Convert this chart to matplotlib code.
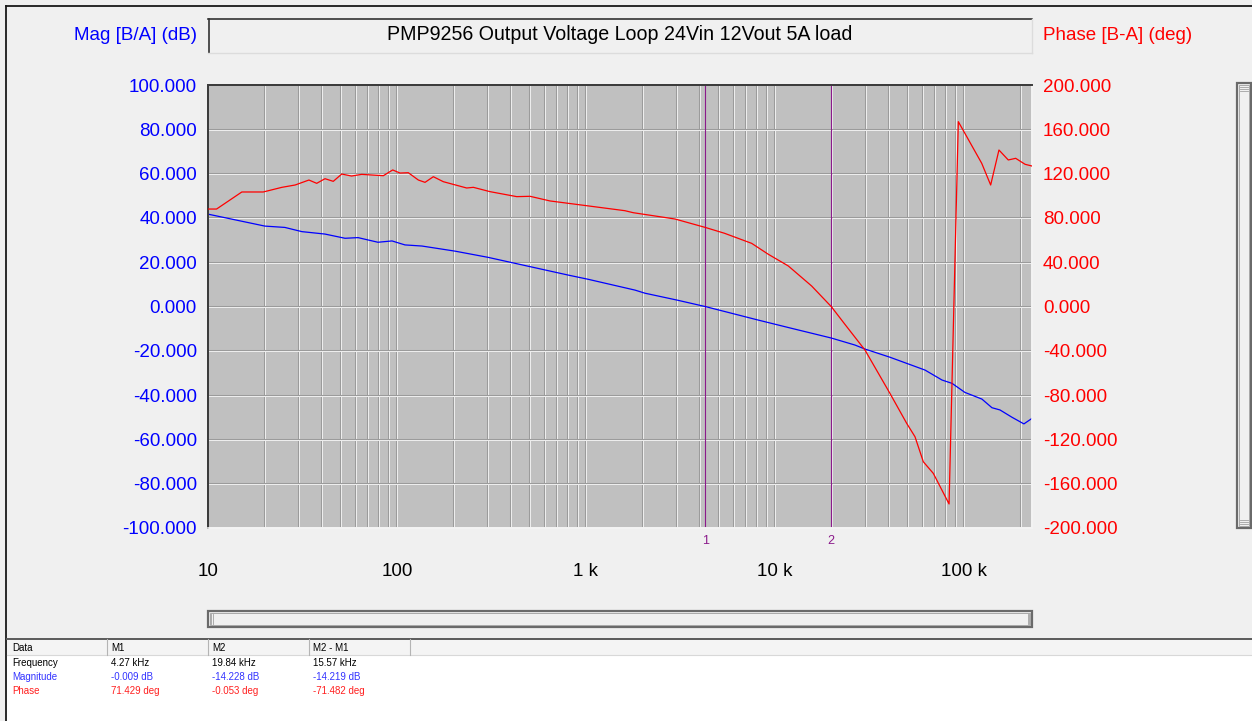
import matplotlib
matplotlib.use("Agg")
import matplotlib.pyplot as plt
import numpy as np
from matplotlib.patches import Rectangle
from matplotlib.lines import Line2D
from matplotlib.transforms import Affine2D, ScaledTranslation

# ---- measured loop data ----
freq_mag = [10, 20.0, 25.5, 31.4, 41.6, 53.1, 62.2, 79.3, 94.1, 110.2, 135.5,
            202.6, 302.9, 405.6, 505.6, 606.9, 803.5, 1025, 1817, 2052, 3029,
            4270, 8128, 12300, 19840, 26490, 29920, 40560, 62200, 76530,
            86450, 101200, 124400, 140600, 155000, 179400, 207500, 229100]
mag_db = [41.7, 36.3, 35.7, 33.8, 32.7, 30.8, 31.1, 29.0, 29.6, 27.8, 27.3,
          25.0, 22.2, 19.8, 18.0, 16.5, 14.2, 12.3, 7.4, 6.0, 2.9,
          -0.009, -6.1, -9.9, -14.228, -17.4, -19.2, -22.9, -28.7, -33.2,
          -34.7, -38.8, -41.8, -45.7, -46.7, -50.0, -53.0, -50.5]

freq_phase = [10, 11.1, 15.1, 19.6, 24.6, 28.9, 34.2, 37.6, 41.6, 46.0, 51.0,
              57.5, 65.0, 84.7, 94.9, 103.7, 114.8, 129.7, 140.7, 155.7, 175.8,
              233.7, 253.5, 310.6, 430, 505.6, 645.4, 968.6, 1607, 1778, 2958,
              4270, 5410, 7530, 9230, 11760, 15630, 19840, 23440, 29920, 40560,
              49750, 55050, 60930, 68830, 83370, 87510, 93330, 124100, 138400,
              153100, 171500, 187700, 210500, 228200]
phase_deg = [88.0, 88.0, 103.4, 103.4, 107.6, 109.7, 114.2, 111.2, 115.4, 113.0, 119.6,
             117.8, 119.3, 118.1, 123.3, 120.5, 120.8, 114.2, 112.1, 117.2, 112.7,
             107.0, 107.6, 103.7, 99.2, 99.5, 95.3, 91.4, 86.5, 84.7, 79.0,
             71.429, 66.1, 57.0, 47.1, 36.6, 18.5, -0.053, -16.1, -39.3, -78.4,
             -105.5, -117.6, -140.2, -150.7, -178.3, -30.0, 166.9, 129.3, 109.7,
             141.3, 132.3, 133.8, 128.4, 126.9]

marker_freq = [4270, 19840]
marker_names = ["1", "2"]

x_ticks = [10, 100, 1e3, 1e4, 1e5]
x_tick_labels = ["10", "100", "1 k", "10 k", "100 k"]
mag_ticks = list(range(-100, 101, 20))
phase_ticks = list(range(-200, 201, 40))
f_min, f_max = 10, 229000

title = "PMP9256 Output Voltage Loop 24Vin 12Vout 5A load"
mag_label = "Mag [B/A] (dB)"
phase_label = "Phase [B-A] (deg)"

table_header = ["Data", "M1", "M2", "M2 - M1"]
table_names = ["Frequency", "Magnitude", "Phase"]
table_m1 = ["4.27 kHz", "-0.009 dB", "71.429 deg"]
table_m2 = ["19.84 kHz", "-14.228 dB", "-0.053 deg"]
table_diff = ["15.57 kHz", "-14.219 dB", "-71.482 deg"]

# ---- styling ----
BLUE = "#0000ff"
RED = "#ff0000"
PURPLE = "#8b1a8b"
BG = "#f0f0f0"
W, H = 1252, 721
FS = 13.5

plt.rcParams["font.family"] = ["Liberation Sans", "DejaVu Sans"]

fig = plt.figure(figsize=(W / 100, H / 100), dpi=100, facecolor=BG)
# pixel coordinates measured from the top-left corner
px = Affine2D().scale(1 / W, -1 / H).translate(0, 1) + fig.transFigure


def hline(x0, x1, y, color, lw=1.0, z=5):
    fig.add_artist(Line2D([x0, x1], [y, y], transform=px, color=color, lw=lw, zorder=z))


def vline(x, y0, y1, color, lw=1.0, z=5):
    fig.add_artist(Line2D([x, x], [y0, y1], transform=px, color=color, lw=lw, zorder=z))


def ptext(x, y, s, **kw):
    fig.text(x / W, 1 - y / H, s, zorder=10, **kw)


# outer window frame
hline(6, W, 6, "#1a1a1a", 1.3)
vline(6, 6, H, "#1a1a1a", 1.3)

# title box (sunken)
fig.add_artist(Rectangle((208, 18), 824, 35, transform=px, facecolor=BG,
                         edgecolor="none", zorder=4))
hline(208, 1032, 18.5, "#333333", 1.2)
vline(208.5, 18.5, 53, "#333333", 1.2)
hline(208, 1032, 53, "#dcdcdc", 1.0)
vline(1032, 18.5, 53, "#dcdcdc", 1.0)
ptext(620, 35, title, ha="center", va="center", fontsize=FS + 0.6, color="black")
ptext(197, 35, mag_label, ha="right", va="center", fontsize=FS, color=BLUE)
ptext(1043, 35, phase_label, ha="left", va="center", fontsize=FS, color=RED)

# ---- main plot ----
ax = fig.add_axes([208 / W, 1 - 528 / H, 824 / W, 443 / H])
ax.set_facecolor("#c0c0c0")
ax.set_xscale("log")
ax.set_xlim(f_min, f_max)
ax.set_ylim(-100, 100)
ax.autoscale(False)

ax2 = ax.twinx()
ax2.set_xscale("log")
ax2.set_xlim(f_min, f_max)
ax2.set_ylim(-200, 200)
ax2.autoscale(False)

# double-line grid (dark edge + light edge)
one_px = 1 / 100
dark_off_x = ax.get_xaxis_transform() + ScaledTranslation(-0.5 * one_px, 0, fig.dpi_scale_trans)
light_off_x = ax.get_xaxis_transform() + ScaledTranslation(0.5 * one_px, 0, fig.dpi_scale_trans)
dark_off_y = ax.get_yaxis_transform() + ScaledTranslation(0, 0.5 * one_px, fig.dpi_scale_trans)
light_off_y = ax.get_yaxis_transform() + ScaledTranslation(0, -0.5 * one_px, fig.dpi_scale_trans)

grid_freqs = [m * 10 ** d for d in range(1, 6) for m in range(1, 10)
              if f_min < m * 10 ** d < f_max]
for f in grid_freqs:
    ax.add_line(Line2D([f, f], [0, 1], transform=dark_off_x, color="#9a9a9a", lw=0.75, zorder=1))
    ax.add_line(Line2D([f, f], [0, 1], transform=light_off_x, color="#ededed", lw=0.75, zorder=1))
for v in mag_ticks[1:-1]:
    ax.add_line(Line2D([0, 1], [v, v], transform=dark_off_y, color="#9a9a9a", lw=0.75, zorder=1))
    ax.add_line(Line2D([0, 1], [v, v], transform=light_off_y, color="#ededed", lw=0.75, zorder=1))

# marker cursors
for f, name in zip(marker_freq, marker_names):
    ax.axvline(f, color=PURPLE, lw=0.8, zorder=2)
    ax.text(f, -0.03, name, transform=ax.get_xaxis_transform(), ha="center", va="center",
            fontsize=9, color=PURPLE, clip_on=False)

ax.plot(freq_mag, mag_db, color=BLUE, lw=0.9, zorder=3)
ax2.plot(freq_phase, phase_deg, color=RED, lw=0.9, zorder=3)

# axes ticks and labels
ax.set_yticks(mag_ticks)
ax.set_yticklabels([f"{v:.3f}" for v in mag_ticks])
ax2.set_yticks(phase_ticks)
ax2.set_yticklabels([f"{v:.3f}" for v in phase_ticks])
ax.set_xticks(x_ticks)
ax.set_xticklabels(x_tick_labels)
for a in (ax, ax2):
    a.xaxis.set_minor_locator(matplotlib.ticker.NullLocator())
    a.yaxis.set_minor_locator(matplotlib.ticker.NullLocator())
    a.tick_params(which="both", length=0, width=0)
ax.tick_params(axis="y", pad=8, labelsize=FS, labelcolor=BLUE)
ax2.tick_params(axis="y", pad=8, labelsize=FS, labelcolor=RED)
ax.tick_params(axis="x", pad=25, labelsize=FS, labelcolor="black")
ax2.tick_params(axis="x", labelbottom=False, labeltop=False)

for a in (ax, ax2):
    a.spines["top"].set_color("#3c3c3c")
    a.spines["left"].set_color("#3c3c3c")
    a.spines["top"].set_linewidth(1.4)
    a.spines["left"].set_linewidth(1.4)
    a.spines["bottom"].set_color("#f4f4f4")
    a.spines["right"].set_color("#f4f4f4")
    a.spines["bottom"].set_linewidth(1.2)
    a.spines["right"].set_linewidth(1.2)

# ---- scrollbars ----
def scrollbar(x, y, w, h, horizontal):
    fig.add_artist(Rectangle((x, y), w, h, transform=px, facecolor=BG,
                             edgecolor="#6a6a6a", lw=1.6, zorder=5))
    fig.add_artist(Rectangle((x + 2, y + 2), w - 4, h - 4, transform=px, facecolor="none",
                             edgecolor="#a8a8a8", lw=0.7, zorder=5))
    if horizontal:
        for gx in (x + 3, x + 4.5, x + w - 4.5, x + w - 3):
            vline(gx, y + 3, y + h - 3, "#a0a0a0", 0.6, 6)
    else:
        for gy in (y + 4, y + 6, y + 8, y + h - 8, y + h - 6, y + h - 4):
            hline(x + 3, x + w - 3, gy, "#a0a0a0", 0.6, 6)


scrollbar(208, 611, 824, 16, True)
scrollbar(1237, 83, 14, 445, False)

# ---- marker readout table ----
fig.add_artist(Rectangle((7, 639), W - 7, 16, transform=px, facecolor="#f4f4f4",
                         edgecolor="none", zorder=4))
fig.add_artist(Rectangle((7, 655), W - 7, H - 655, transform=px, facecolor="white",
                         edgecolor="none", zorder=4))
hline(7, W, 638.5, "#5a5a5a", 1.4)
hline(7, W, 655, "#d8d8d8", 0.8)
for cx in (107, 208, 309, 410):
    vline(cx, 639, 655, "#b4b4b4", 0.8)
col_x = [12, 111, 212, 313]
for cx, txt in zip(col_x, table_header):
    ptext(cx, 648, txt, ha="left", va="center", fontsize=7, color="black")
row_y = [663, 677, 691]
row_colors = ["black", "#3333ff", "#ff2020"]
for i, y in enumerate(row_y):
    cells = [table_names[i], table_m1[i], table_m2[i], table_diff[i]]
    for cx, txt in zip(col_x, cells):
        ptext(cx, y, txt, ha="left", va="center", fontsize=7, color=row_colors[i])

fig.savefig("out.png", dpi=100, facecolor=BG)
